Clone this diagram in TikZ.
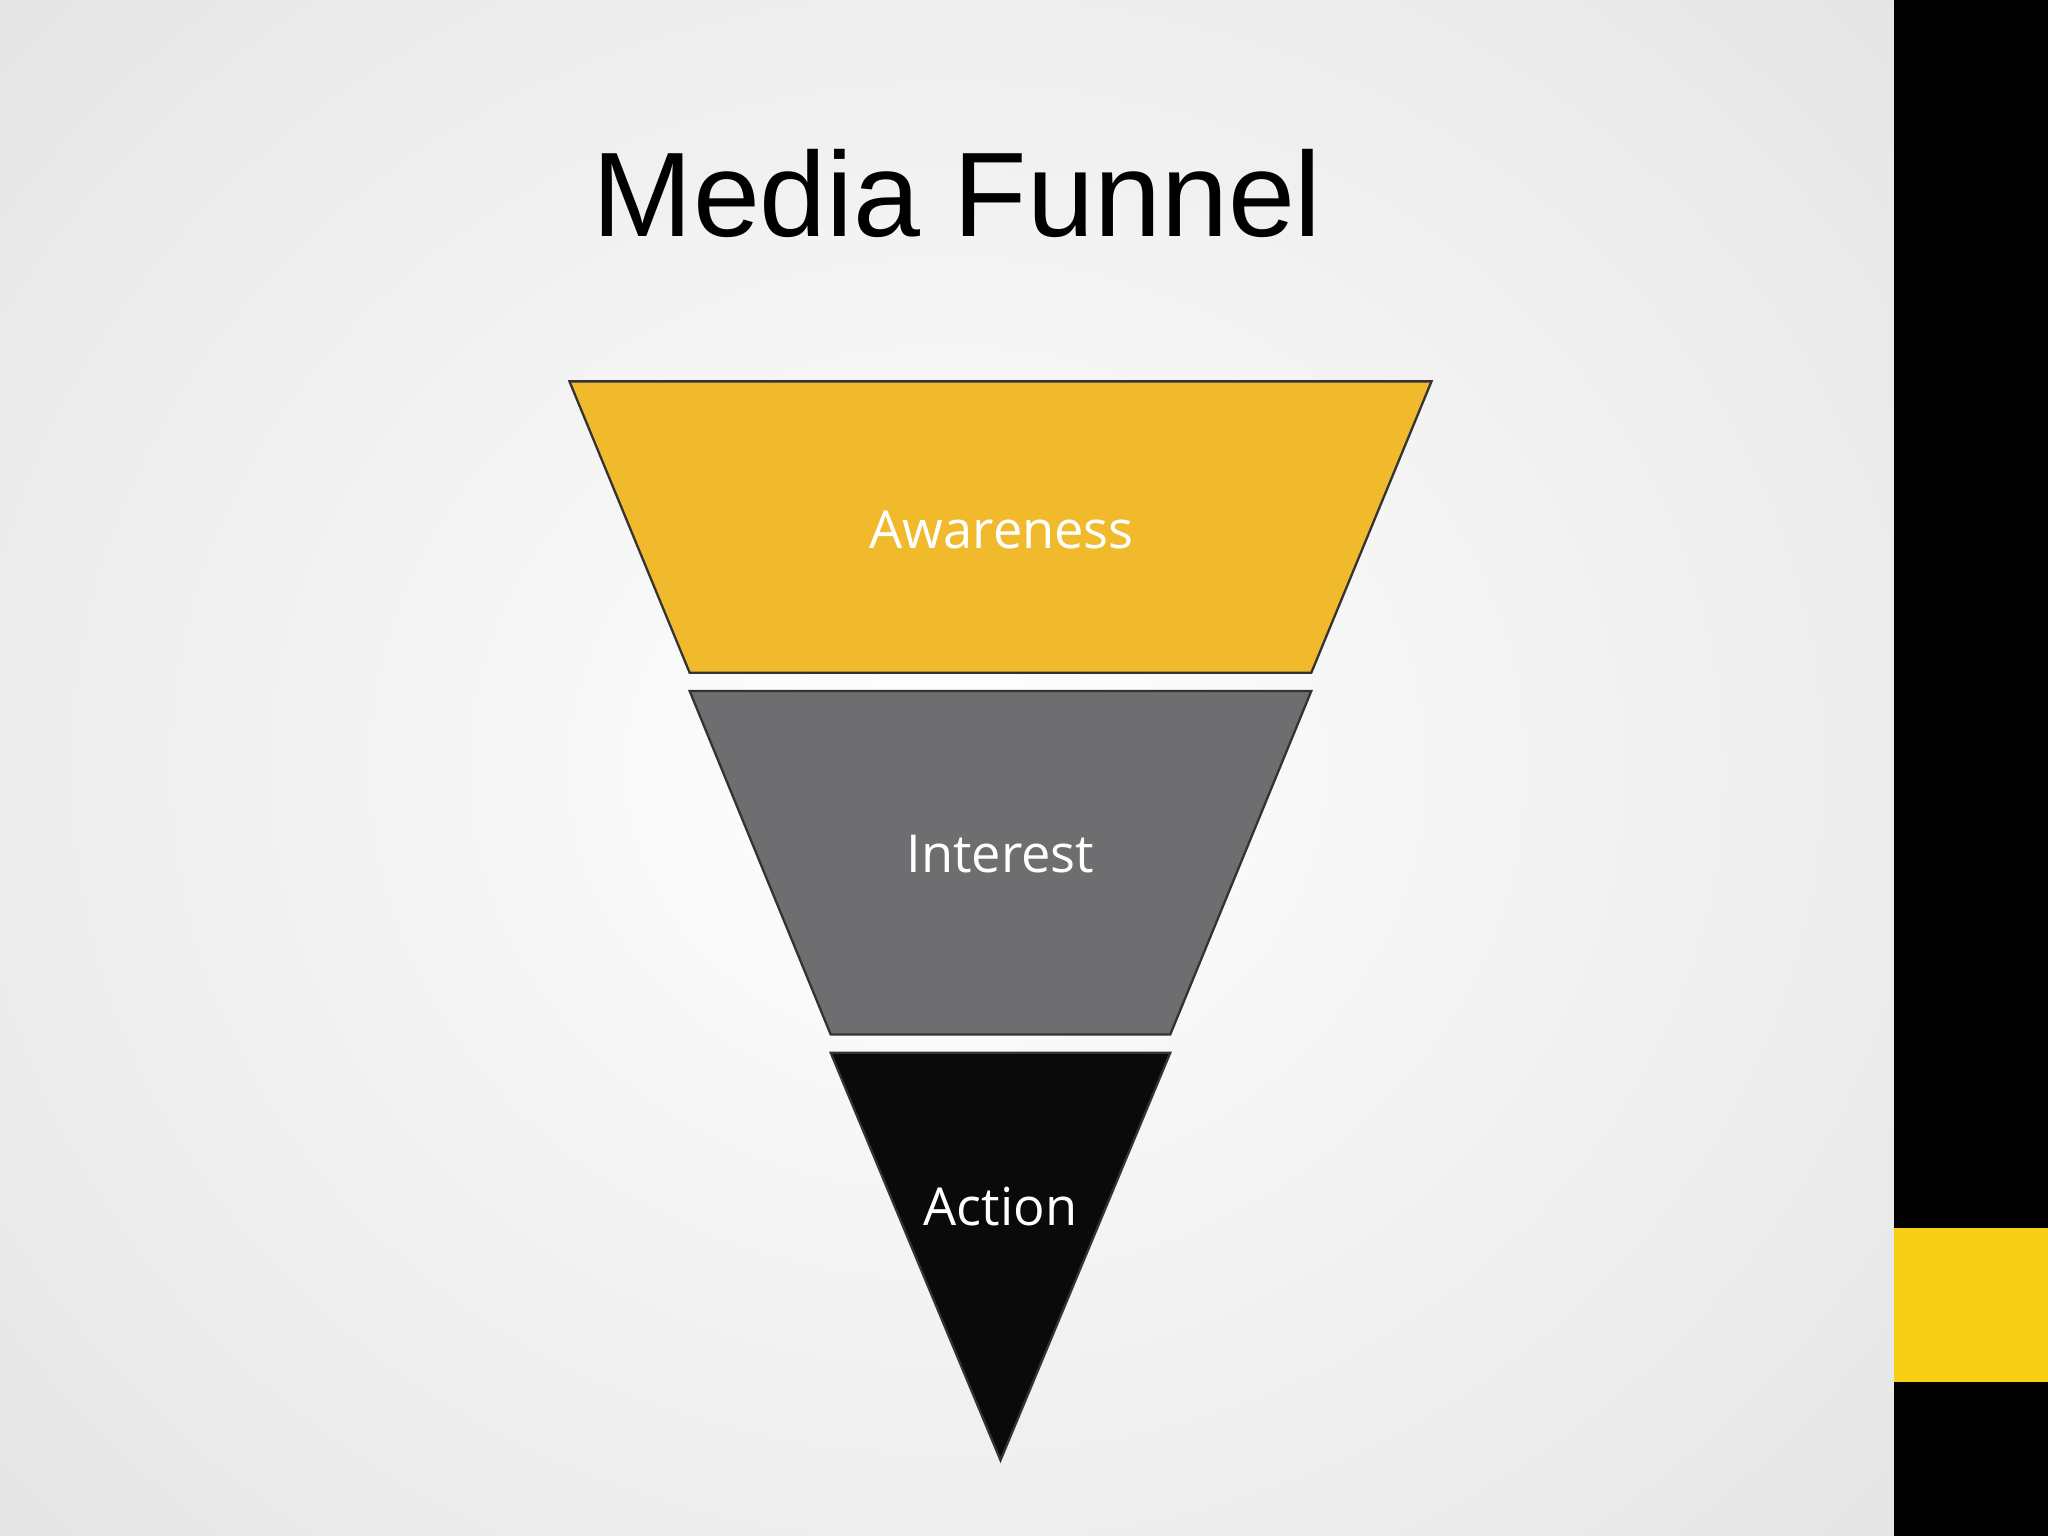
\documentclass[tikz,border=0pt]{standalone}
\usepackage{fontspec}
\setmainfont{Liberation Sans}
\newfontfamily\labfont{Open Sans}
\definecolor{fyellow}{HTML}{F0BA2C}
\definecolor{fgray}{HTML}{6E6D6F}
\definecolor{fblack}{HTML}{0A0A0A}
\definecolor{baryellow}{HTML}{F8CF16}
\begin{document}
\begin{tikzpicture}[x=0.01cm,y=-0.01cm,
  seg/.style={draw=black!80,line width=0.5pt},
  lab/.style={text=white,font=\labfont\fontsize{11.4pt}{13pt}\selectfont}]
\useasboundingbox (0,0) rectangle (1568,1176);
\shade[inner color=white,outer color=black!12] (-450,-450) rectangle (1900,1626);
\fill[black] (1450,0) rectangle (1568,1176);
\fill[baryellow] (1450,940) rectangle (1568,1058);
\node (title) at (733,148) {\fontsize{26.2pt}{30pt}\selectfont Media Funnel};
\fill[seg,fill=fyellow] (436,292) -- (1096,292) -- (1004,515) -- (528,515) -- cycle;
\fill[seg,fill=fgray] (528,529) -- (1004,529) -- (896,792) -- (636,792) -- cycle;
\fill[seg,fill=fblack] (636,806) -- (896,806) -- (766,1118) -- cycle;
\node[lab] (aw) at (767,406) {Awareness};
\node[lab] (in) at (766,654) {Interest};
\node[lab] (ac) at (766,924) {Action};
\end{tikzpicture}
\end{document}
